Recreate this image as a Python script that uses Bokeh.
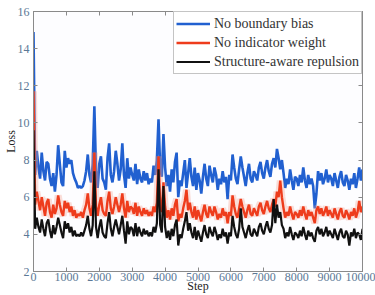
from bokeh.plotting import figure
from bokeh.models import Range1d, Legend, LegendItem, LinearAxis, FixedTicker
from bokeh.embed import file_html
from bokeh.resources import INLINE

steps = list(range(0, 10001, 50))

no_boundary_bias = [
    14.9, 7.2, 8.5, 7.6, 7.0, 8.4, 7.4, 6.9, 7.9, 7.8,
    7.0, 6.6, 7.3, 6.3, 7.2, 8.8, 7.8, 6.8, 6.6, 8.5,
    7.6, 8.1, 7.8, 8.0, 7.3, 7.0, 6.8, 6.5, 6.6, 6.5,
    6.6, 6.9, 7.4, 8.3, 7.2, 6.8, 7.8, 10.9, 7.4, 6.5,
    7.8, 8.2, 7.0, 6.8, 6.4, 8.1, 8.9, 7.2, 6.8, 7.4,
    8.5, 7.8, 6.9, 7.5, 8.9, 7.2, 6.5, 8.1, 7.0, 7.6,
    7.2, 6.9, 7.8, 6.7, 7.5, 7.0, 6.8, 7.4, 6.9, 7.3,
    6.7, 7.0, 6.8, 7.7, 7.2, 8.0, 10.2, 7.6, 7.1, 9.4,
    7.6, 6.6, 7.2, 6.3, 7.5, 6.8, 7.9, 8.4, 6.0, 6.9,
    6.6, 7.3, 8.0, 6.5, 7.3, 8.1, 7.1, 6.6, 7.6, 6.4,
    7.3, 6.9, 6.2, 7.1, 7.8, 7.0, 6.6, 7.7, 7.2, 6.8,
    7.6, 7.2, 6.4, 7.0, 6.7, 7.4, 6.8, 7.1, 5.9, 7.2,
    6.9, 8.3, 7.6, 7.0, 6.7, 7.5, 8.2, 7.6, 7.1, 6.6,
    7.3, 7.8, 7.0, 6.8, 7.4, 7.2, 6.9, 7.6, 7.9, 7.3,
    7.0, 7.6, 8.0, 7.4, 7.1, 7.8, 8.1, 7.6, 8.6, 8.1,
    7.5, 8.0, 7.3, 6.5, 7.0, 6.7, 7.5, 6.9, 6.4, 7.1,
    7.0, 6.6, 7.2, 6.8, 7.6, 6.9, 6.5, 7.2, 6.7, 7.0,
    6.6, 5.4, 6.2, 7.4, 6.9, 7.3, 6.7, 7.0, 7.5, 6.8,
    7.2, 7.0, 6.6, 7.3, 6.9, 6.5, 7.1, 7.4, 6.8, 6.6,
    7.2, 6.9, 6.4, 7.0, 6.7, 7.3, 6.5, 7.0, 7.6, 6.9,
    7.5,
]

no_indicator_weight = [
    11.7, 5.6, 6.3, 5.8, 5.3, 6.0, 5.5, 5.0, 5.7, 5.9,
    5.2, 4.9, 5.6, 5.1, 5.4, 6.1, 5.6, 5.2, 5.0, 5.8,
    5.4, 5.7, 5.2, 5.5, 5.0, 5.3, 4.9, 5.1, 5.0, 5.2,
    4.9, 5.3, 5.6, 6.2, 5.4, 5.0, 5.6, 8.4, 5.5, 5.0,
    5.6, 6.0, 5.3, 5.1, 5.0, 5.8, 6.3, 5.4, 5.1, 5.5,
    6.0, 5.6, 5.2, 5.6, 6.2, 5.4, 4.9, 5.8, 5.2, 5.5,
    5.4, 5.1, 5.7, 5.0, 5.5, 5.2, 5.0, 5.4, 5.1, 5.3,
    5.0, 5.2, 5.0, 5.5, 5.2, 5.7, 8.2, 5.6, 5.2, 6.8,
    5.5, 4.9, 5.3, 4.8, 5.4, 5.0, 5.6, 5.9, 4.7, 5.1,
    4.9, 5.4, 5.8, 6.4, 5.3, 5.7, 5.2, 4.9, 5.5, 4.8,
    5.3, 5.0, 4.7, 5.2, 5.6, 5.1, 4.9, 5.5, 5.2, 5.0,
    5.5, 5.2, 4.8, 5.1, 4.9, 5.4, 5.0, 5.2, 4.6, 5.2,
    5.0, 6.1, 5.5, 5.1, 4.9, 5.4, 5.9, 5.5, 5.2, 4.9,
    5.3, 5.6, 5.1, 5.0, 5.4, 5.2, 5.0, 5.5, 5.7, 5.3,
    5.1, 5.5, 5.8, 5.4, 5.2, 5.6, 5.9, 5.5, 6.3, 6.0,
    6.9, 6.0, 5.4, 4.9, 5.2, 5.0, 5.5, 5.1, 4.8, 5.2,
    5.1, 4.9, 5.3, 5.0, 5.5, 5.1, 4.8, 5.3, 5.0, 5.2,
    4.9, 4.6, 5.3, 5.5, 5.1, 5.4, 5.0, 5.2, 5.5, 5.0,
    5.3, 5.1, 4.9, 5.4, 5.1, 4.8, 5.2, 5.4, 5.0, 4.9,
    5.3, 5.1, 4.8, 5.2, 5.0, 5.4, 4.9, 5.2, 5.8, 5.2,
    5.5,
]

structure_aware = [
    9.6, 4.3, 4.9, 4.4, 4.1, 4.8, 4.3, 3.9, 4.6, 4.8,
    4.2, 3.8, 4.5, 4.0, 4.4, 4.9, 4.5, 4.1, 3.8, 4.7,
    4.3, 4.6, 4.1, 4.4, 3.9, 4.2, 3.9, 4.0, 3.9, 4.1,
    3.9, 4.2, 4.5, 5.0, 4.3, 3.9, 4.5, 7.4, 4.4, 3.8,
    4.4, 4.8, 4.1, 3.9, 3.8, 4.6, 5.2, 4.3, 3.9, 4.4,
    4.8, 4.4, 4.0, 4.5, 5.0, 4.2, 3.5, 4.7, 4.0, 4.4,
    4.3, 3.9, 4.6, 3.9, 4.4, 4.1, 3.9, 4.3, 4.0, 4.2,
    3.9, 4.1, 3.9, 4.4, 4.1, 4.6, 7.5, 4.5, 4.1, 6.6,
    4.4, 3.8, 4.2, 3.7, 4.3, 3.9, 4.5, 4.8, 3.4, 4.0,
    3.8, 4.3, 4.7, 5.2, 4.2, 4.6, 4.1, 3.8, 4.4, 3.7,
    4.2, 3.9, 3.6, 4.1, 4.5, 4.0, 3.8, 4.4, 4.1, 3.9,
    4.4, 4.1, 3.7, 4.0, 3.8, 4.3, 3.9, 4.1, 3.5, 4.1,
    3.9, 5.0, 4.4, 4.0, 3.8, 4.3, 5.4, 4.4, 4.1, 3.8,
    4.2, 4.5, 4.0, 3.9, 4.3, 4.1, 3.9, 4.4, 4.6, 4.2,
    4.0, 4.4, 4.7, 4.3, 4.1, 4.5, 5.9, 4.6, 5.6, 4.9,
    5.2, 4.5, 4.3, 3.8, 4.1, 3.9, 4.4, 4.0, 3.7, 4.1,
    4.0, 3.8, 4.2, 3.9, 4.4, 4.0, 3.7, 4.2, 3.9, 4.1,
    3.8, 3.6, 4.2, 4.4, 4.0, 4.3, 3.9, 4.1, 4.4, 3.9,
    4.2, 4.0, 3.8, 4.3, 4.0, 3.7, 4.1, 4.3, 3.9, 3.8,
    4.2, 4.0, 3.4, 4.1, 3.9, 4.3, 3.8, 4.1, 4.0, 3.7,
    4.3,
]

x_ticks = [0, 1000, 2000, 3000, 4000, 5000, 6000, 7000, 8000, 9000, 10000]
y_ticks = [2, 4, 6, 8, 10, 12, 14, 16]
series_labels = ["No boundary bias", "No indicator weight", "Structure-aware repulsion"]

FONT = "'Liberation Serif'"
TICK_COLOR = "#5b7896"
AXIS_COLOR = "#8a8a8a"

p = figure(width=375, height=295, output_backend="svg", toolbar_location=None,
           x_range=Range1d(0, 10000), y_range=Range1d(2, 16),
           min_border_left=33, min_border_right=13, min_border_top=11, min_border_bottom=24)
p.background_fill_color = "#fdfdff"
p.border_fill_color = "white"
p.grid.visible = False
p.outline_line_color = AXIS_COLOR
p.outline_line_width = 1

for ax, ticks in ((p.xaxis[0], x_ticks), (p.yaxis[0], y_ticks)):
    ax.ticker = FixedTicker(ticks=ticks)
    ax.major_tick_in = 4
    ax.major_tick_out = 0
    ax.minor_tick_line_color = None
    ax.axis_line_color = AXIS_COLOR
    ax.major_tick_line_color = AXIS_COLOR
    ax.major_label_text_font = FONT
    ax.major_label_text_color = TICK_COLOR
    ax.major_label_text_font_size = "12px"
    ax.axis_label_text_font = FONT
    ax.axis_label_text_font_size = "12px"
    ax.axis_label_text_font_style = "normal"
    ax.axis_label_text_color = "#222222"

p.xaxis.axis_label = "Step"
p.yaxis.axis_label = "Loss"
p.xaxis.major_label_standoff = 1
p.xaxis.axis_label_standoff = -5
p.yaxis.major_label_standoff = 4
p.yaxis.axis_label_standoff = -3

for loc, ticks in (("above", x_ticks), ("right", y_ticks)):
    ax = LinearAxis(ticker=FixedTicker(ticks=ticks))
    ax.major_tick_in = 4
    ax.major_tick_out = 0
    ax.minor_tick_line_color = None
    ax.axis_line_color = AXIS_COLOR
    ax.major_tick_line_color = AXIS_COLOR
    ax.major_label_text_font_size = "1px"
    ax.major_label_text_color = None
    ax.major_label_standoff = 0
    p.add_layout(ax, loc)

blue = p.line(steps, no_boundary_bias, line_color="#2160d0", line_width=2.6)
p.line(steps, no_indicator_weight, line_color="#f4a090", line_width=7, line_alpha=0.35)
orange = p.line(steps, no_indicator_weight, line_color="#ee3c1c", line_width=2.4)
black = p.line(steps, structure_aware, line_color="#111111", line_width=2.2)

legend = Legend(items=[LegendItem(label=series_labels[0], renderers=[blue]),
                       LegendItem(label=series_labels[1], renderers=[orange]),
                       LegendItem(label=series_labels[2], renderers=[black])],
                location="top_right", margin=0, padding=2, spacing=0,
                glyph_width=34, glyph_height=19, label_height=19, label_standoff=4,
                label_text_font=FONT, label_text_font_size="14px",
                label_text_color="#333333", border_line_color=AXIS_COLOR,
                background_fill_color="white", background_fill_alpha=1.0)
p.add_layout(legend)

open("out.html", "w").write(file_html(p, INLINE))
